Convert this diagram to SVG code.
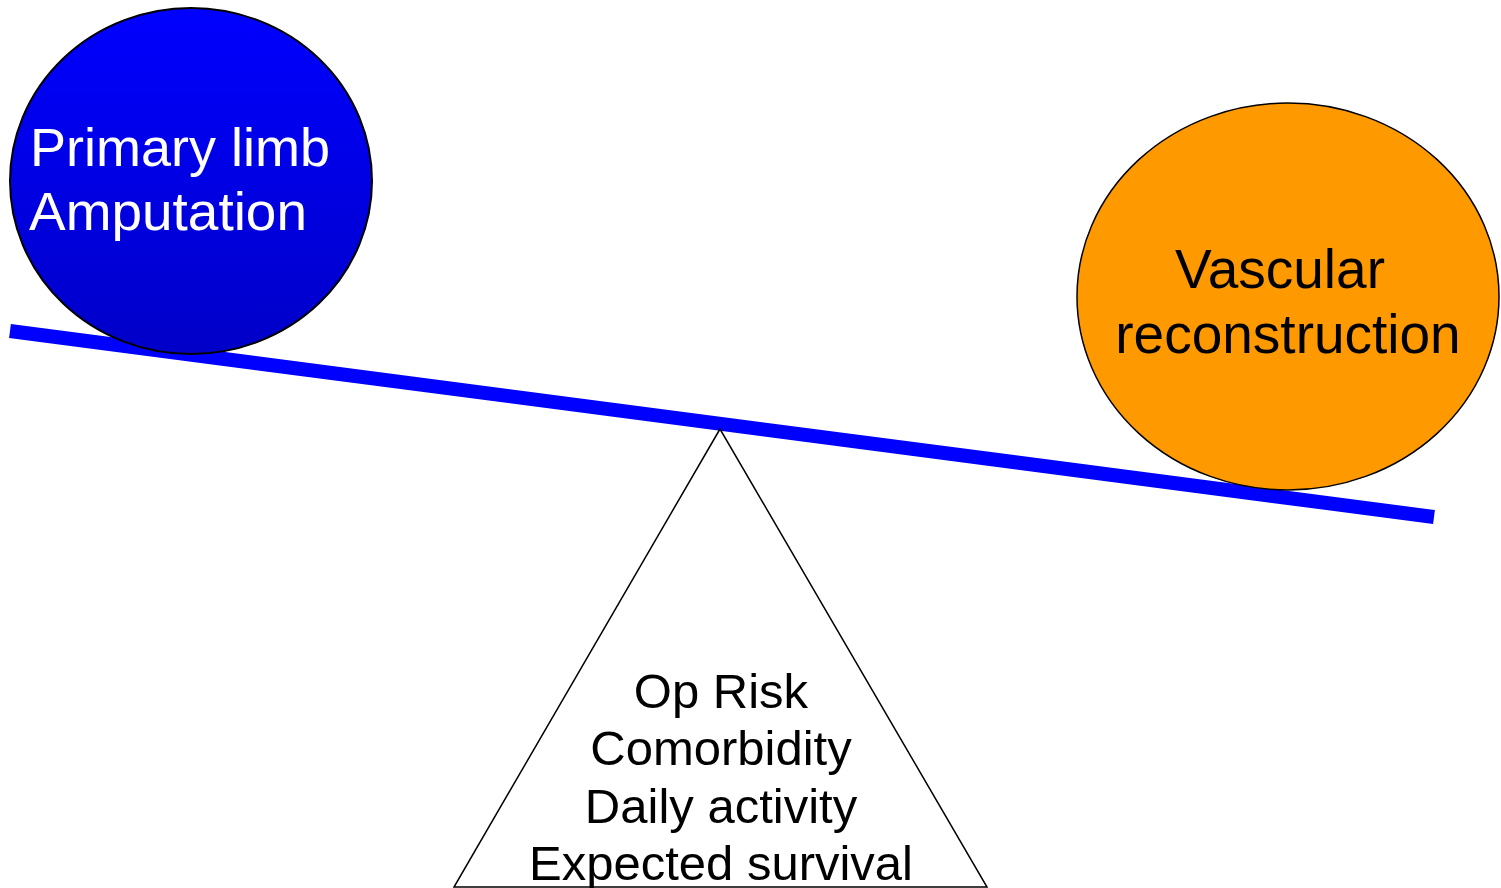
<svg xmlns="http://www.w3.org/2000/svg" width="1501" height="888" viewBox="0 0 1501 888">
  <style>
    .lbl { font-family: "Liberation Sans", Arial, sans-serif; }
    .outline { stroke: #000; stroke-width: 2; }
  </style>
  <defs>
    <linearGradient id="blueFill" x1="0" y1="0" x2="0" y2="1">
      <stop offset="0" stop-color="#0000FF"/>
      <stop offset="1" stop-color="#0000C8"/>
    </linearGradient>
  </defs>
  <rect width="1501" height="888" fill="#fff"/>

  <!-- seesaw beam -->
  <g id="connectors">
    <line x1="10" y1="331" x2="1434" y2="517" stroke="#0000FF" stroke-width="14"/>
  </g>

  <!-- fulcrum -->
  <g id="fulcrum">
    <polygon points="720,429 454,887 987,887" fill="#fff" stroke="#000" stroke-width="1.5"/>
    <g class="lbl" font-size="49" fill="#000" text-anchor="middle">
      <text x="721" y="708">Op Risk</text>
      <text x="721" y="765">Comorbidity</text>
      <text x="721" y="823">Daily activity</text>
      <text x="721" y="880">Expected survival</text>
    </g>
  </g>

  <!-- left weight -->
  <g id="amputation">
    <ellipse cx="191" cy="181" rx="181" ry="173" fill="url(#blueFill)" class="outline"/>
    <g class="lbl" font-size="54" fill="#fff">
      <text x="30" y="166" textLength="300" lengthAdjust="spacingAndGlyphs">Primary limb</text>
      <text x="29" y="230" textLength="278" lengthAdjust="spacingAndGlyphs">Amputation</text>
    </g>
  </g>

  <!-- right weight -->
  <g id="reconstruction">
    <ellipse cx="1288" cy="296.5" rx="211" ry="193.5" fill="#FF9900" stroke="#000" stroke-width="1.5"/>
    <g class="lbl" font-size="55" fill="#000" text-anchor="middle">
      <text x="1280" y="288">Vascular</text>
      <text x="1288" y="353">reconstruction</text>
    </g>
  </g>
</svg>
